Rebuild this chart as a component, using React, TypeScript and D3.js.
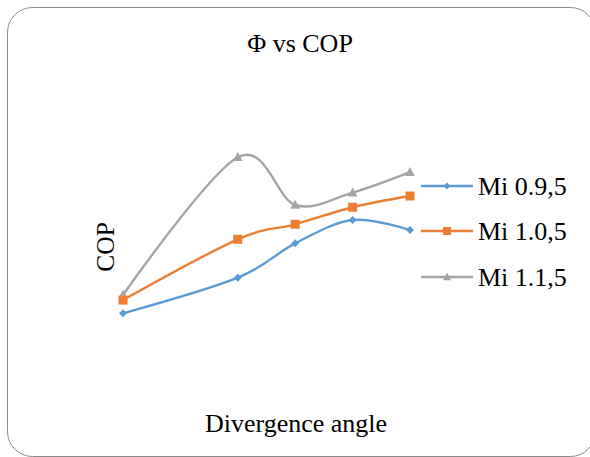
import React from "react";
import * as d3 from "d3";

const angles = [4, 6, 7, 8, 9];
const seriesNames = ["Mi 0.9,5", "Mi 1.0,5", "Mi 1.1,5"];
const mi09 = [2.476, 2.731, 2.976, 3.143, 3.071];
const mi10 = [2.571, 3.005, 3.112, 3.234, 3.314];
const mi11 = [2.607, 3.591, 3.25, 3.338, 3.484];
const colors = ["#5B9BD5", "#ED7D31", "#A5A5A5"];
const markers = ["diamond", "square", "triangle"];

const W = 590;
const H = 457;
const FONT = "Liberation Serif, Tinos, Times New Roman, Times, DejaVu Serif, serif";

function markerPath(kind: string, cx: number, cy: number, s: number) {
  if (kind === "diamond") {
    return `M${cx},${cy - s}L${cx + s},${cy}L${cx},${cy + s}L${cx - s},${cy}Z`;
  }
  if (kind === "square") {
    return `M${cx - s},${cy - s}H${cx + s}V${cy + s}H${cx - s}Z`;
  }
  return `M${cx},${cy - s * 1.1}L${cx + s},${cy + s * 0.8}L${cx - s},${cy + s * 0.8}Z`;
}

export default function App() {
  const x = d3.scaleLinear().domain([4, 9]).range([123, 410]);
  const y = d3.scaleLinear().domain([2, 4]).range([380, 100]);
  const data = [mi09, mi10, mi11];
  const line = d3
    .line<number>()
    .x((_, i) => x(angles[i]))
    .y((d) => y(d))
    .curve(d3.curveCatmullRom.alpha(0));

  const legendY = [186, 231, 277];
  const drawOrder = [2, 1, 0];
  const textStyle = { fontFamily: FONT, fontSize: "26px" } as React.CSSProperties;

  return (
    <svg
      width={W}
      height={H}
      style={{ position: "absolute", left: 0, top: 0, background: "#fff" }}
    >
      <rect x={0} y={0} width={W} height={H} fill="#fff" />
      <rect
        x={7.5}
        y={7.5}
        width={588}
        height={449}
        rx={25}
        ry={25}
        fill="#fff"
        stroke="#8a8a8a"
        strokeWidth={1}
      />
      <text x={300} y={52} textAnchor="middle" style={textStyle} fill="#000">
        Φ vs COP
      </text>
      <text x={296} y={432} textAnchor="middle" style={textStyle} fill="#000">
        Divergence angle
      </text>
      <text
        transform="translate(114,247) rotate(-90)"
        textAnchor="middle"
        style={{ ...textStyle, fontSize: "25.5px" }}
        fill="#000"
      >
        COP
      </text>
      {drawOrder.map((si) => (
        <g key={si}>
          <path
            d={line(data[si]) || ""}
            fill="none"
            stroke={colors[si]}
            strokeWidth={2.4}
            strokeLinejoin="round"
          />
          {data[si].map((v, i) => (
            <path
              key={i}
              d={markerPath(markers[si], x(angles[i]), y(v), si === 0 ? 4 : si === 1 ? 4.5 : 4.8)}
              fill={colors[si]}
            />
          ))}
        </g>
      ))}
      {seriesNames.map((name, si) => (
        <g key={name}>
          <line
            x1={421}
            x2={473}
            y1={legendY[si]}
            y2={legendY[si]}
            stroke={colors[si]}
            strokeWidth={2.4}
          />
          <path
            d={markerPath(markers[si], 447, legendY[si], si === 0 ? 3.5 : 4)}
            fill={colors[si]}
          />
          <text x={478} y={legendY[si] + 9} style={textStyle} fill="#000">
            {name}
          </text>
        </g>
      ))}
    </svg>
  );
}
